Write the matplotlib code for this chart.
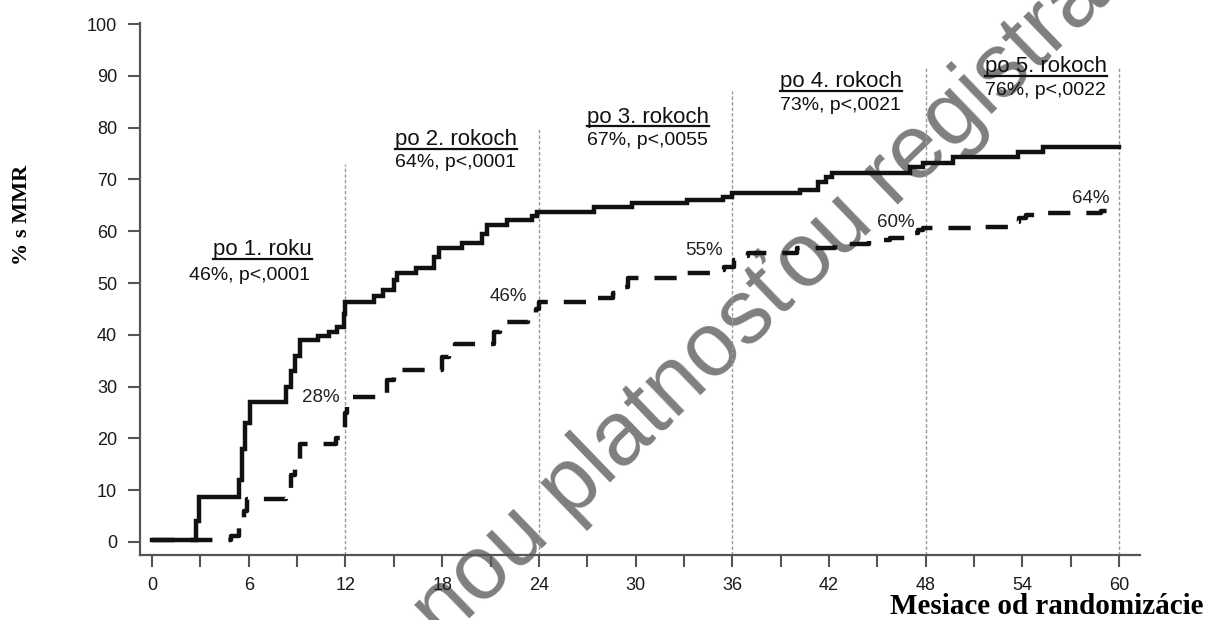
import matplotlib
matplotlib.use("Agg")
import matplotlib.pyplot as plt
from matplotlib.lines import Line2D

# ---------------- data ----------------
solid_t = [0, 2.7, 2.9, 5.4, 5.6, 5.8, 6.1, 8.3, 8.6, 8.9, 9.2, 10.3, 11.0, 11.5,
           11.9, 12.0, 13.8, 14.3, 15.0, 15.2, 16.4, 17.5, 17.8, 19.2, 20.5, 20.8,
           22.0, 23.6, 23.9, 27.4, 29.8, 33.2, 35.4, 36.0, 40.2, 41.3, 41.8, 42.2,
           47.0, 47.8, 49.7, 53.7, 55.3, 60.0]
solid_v = [0.4, 4.0, 8.7, 12.0, 18.0, 23.0, 27.0, 30.0, 33.0, 36.0, 39.0, 39.7, 40.5, 41.5,
           44.0, 46.3, 47.5, 48.6, 50.5, 51.9, 52.9, 55.0, 56.8, 57.7, 59.5, 61.2,
           62.2, 63.0, 63.7, 64.7, 65.4, 66.0, 66.7, 67.4, 68.0, 69.5, 70.5, 71.2,
           72.4, 73.2, 74.3, 75.3, 76.3, 76.3]

dash_t = [0, 4.9, 5.4, 5.7, 5.9, 8.3, 8.6, 8.9, 9.2, 11.4, 11.8, 12.0, 12.1,
          14.6, 15.0, 15.3, 18.0, 18.4, 18.8, 21.2, 21.6, 23.3, 23.8, 24.0,
          26.9, 27.5, 28.6, 29.1, 29.5, 33.2, 34.8, 35.5, 36.1, 36.5, 37.0,
          40.0, 42.4, 44.5, 45.8, 46.8, 47.5, 47.8, 51.0, 53.3, 53.8, 54.2, 55.0,
          58.9, 59.3]
dash_v = [0.4, 1.2, 3.0, 6.0, 8.3, 10.0, 13.0, 16.0, 19.0, 20.0, 21.0, 25.0, 28.0,
          31.3, 32.6, 33.2, 35.7, 37.0, 38.2, 40.5, 42.5, 44.0, 45.0, 46.3,
          46.6, 47.1, 48.0, 49.2, 51.0, 52.0, 52.5, 53.1, 54.4, 55.2, 55.8,
          56.8, 57.5, 58.3, 58.7, 59.6, 60.2, 60.6, 60.8, 61.8, 62.5, 63.1, 63.5,
          63.9, 63.9]

year_x = [12, 24, 36, 48, 60]
year_top = [73, 80, 87, 91.5, 91.5]

head_labels = ["po 1. roku", "po 2. rokoch", "po 3. rokoch", "po 4. rokoch", "po 5. rokoch"]
stat_labels = ["46%, p<,0001", "64%, p<,0001", "67%, p<,0055", "73%, p<,0021", "76%, p<,0022"]
head_pos = [(9.93, 55.4), (15.07, 76.6), (27.0, 80.9), (38.95, 87.8), (51.7, 90.7)]
stat_pos = [(9.83, 50.6), (15.07, 72.4), (27.0, 76.6), (38.95, 83.4), (51.7, 86.3)]
head_ha = ["right", "left", "left", "left", "left"]

pct_labels = ["28%", "46%", "55%", "60%", "64%"]
pct_pos = [(11.66, 27.0), (23.3, 46.5), (35.4, 55.4), (47.3, 60.8), (59.4, 65.4)]

xticks_major = list(range(0, 61, 6))
xticks_minor = list(range(3, 61, 6))
yticks = list(range(0, 101, 10))

W, H = 1207, 620
SANS = ["Liberation Sans", "DejaVu Sans"]
SERIF = ["Liberation Serif", "DejaVu Serif"]

fig = plt.figure(figsize=(W / 100, H / 100), dpi=100)
ax = fig.add_axes([140 / W, 65 / H, 1000 / W, 532 / H])
ax.patch.set_alpha(0)

ax.set_xlim(-0.744, 61.29)
ax.set_ylim(-2.51, 100.2)

# watermark
ax.text(444 / W, 1 - 643 / H, "nou platnosťou registrácie", transform=fig.transFigure,
        rotation=44, rotation_mode="anchor", ha="left", va="baseline",
        fontsize=65, color="#7f7f7f", family=SANS, zorder=0.5, clip_on=False)

# year reference lines
ax.vlines(year_x, -2.51, year_top, colors="#9a9a9a", linestyles=(0, (2.5, 1.5)),
          linewidth=1.0, zorder=1)

# curves
ax.plot(solid_t, solid_v, drawstyle="steps-post", color="#111111", lw=3.2,
        solid_joinstyle="miter", zorder=3)
ax.plot(dash_t, dash_v, drawstyle="steps-post", color="#111111", lw=3.2,
        dashes=(5.0, 3.6), zorder=3)

# spines / ticks
for s in ["top", "right"]:
    ax.spines[s].set_visible(False)
for s in ["left", "bottom"]:
    ax.spines[s].set_color("#555555")
    ax.spines[s].set_linewidth(1.6)
ax.set_xticks(xticks_major)
ax.set_xticks(xticks_minor, minor=True)
ax.set_yticks(yticks)
ax.tick_params(axis="both", which="both", direction="out", length=8.5, width=1.5,
               color="#555555", labelsize=13, labelcolor="#1a1a1a")
ax.tick_params(axis="x", which="both", pad=7)
ax.tick_params(axis="y", pad=8)
for lab in ax.get_xticklabels() + ax.get_yticklabels():
    lab.set_family(SANS)

# annotations
heads = []
for txt, (x, y), ha in zip(head_labels, head_pos, head_ha):
    t = ax.text(x, y, txt, ha=ha, va="baseline", fontsize=16, family=SANS,
                color="#111111", zorder=4)
    heads.append((t, y))
for txt, (x, y), ha in zip(stat_labels, stat_pos, head_ha):
    ax.text(x, y, txt, ha=ha, va="baseline", fontsize=14, family=SANS,
            color="#111111", zorder=4)
for txt, (x, y) in zip(pct_labels, pct_pos):
    ax.text(x, y, txt, ha="right", va="baseline", fontsize=13.5, family=SANS,
            color="#222222", zorder=4)

# axis labels
fig.text(22 / W, 1 - 215 / H, "% s MMR", rotation=90, ha="center", va="center",
         fontsize=16, fontweight="bold", family=SERIF, color="#000000")
fig.text(1203 / W, 1 - 607 / H, "Mesiace od randomizácie", ha="right", va="center",
         fontsize=21, fontweight="bold", family=SERIF, color="#000000")

# underline headings
fig.canvas.draw()
r = fig.canvas.get_renderer()
for t, y in heads:
    bb = t.get_window_extent(renderer=r)
    yb = ax.transData.transform((0, y))[1] - 3.5
    fig.add_artist(Line2D([bb.x0 / W, bb.x1 / W], [yb / H, yb / H],
                          transform=fig.transFigure, color="#111111", lw=1.6))

fig.savefig("out.png", dpi=100)
